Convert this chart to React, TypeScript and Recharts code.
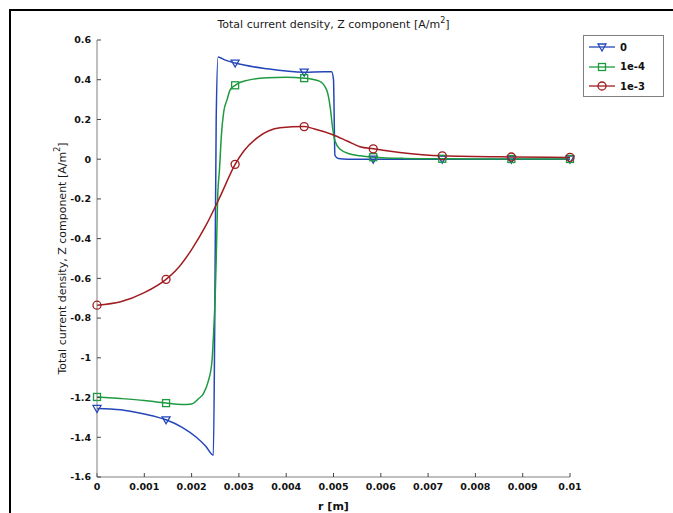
import React from 'react';
import { LineChart, Line, XAxis, YAxis } from 'recharts';

// radial positions where the solver put its markers (shared by all curves)
const markerR = [0, 0.00146, 0.00292, 0.00438, 0.00584, 0.0073, 0.00876, 0.01];

// sigma = 0
const rBlue = [0.0005, 0.001, 0.0018, 0.0021, 0.0023, 0.00246, 0.00249, 0.00252, 0.00256, 0.0027, 0.0036, 0.0048, 0.00496, 0.005, 0.00503, 0.0051, 0.0053];
const vBlue = [-1.262, -1.283, -1.35, -1.40, -1.445, -1.49, -0.8, 0.2, 0.515, 0.50, 0.455, 0.44, 0.44, 0.40, 0.02, 0.003, 0.0];
const mBlue = [-1.255, -1.312, 0.484, 0.438, 0.0, 0.0, 0.0, 0.0];

// sigma = 1e-4
const rGreen = [0.0005, 0.001, 0.0018, 0.002, 0.00215, 0.00225, 0.00235, 0.00243, 0.00247, 0.0025, 0.00252, 0.00255, 0.00259, 0.00263, 0.00268, 0.00275, 0.00281, 0.0032, 0.0036, 0.004, 0.0047, 0.00486, 0.00493, 0.00498, 0.00503, 0.00514, 0.00535, 0.00556, 0.0065];
const vGreen = [-1.205, -1.215, -1.235, -1.232, -1.205, -1.18, -1.12, -1.02, -0.85, -0.68, -0.51, -0.2, -0.05, 0.12, 0.24, 0.30, 0.346, 0.398, 0.41, 0.413, 0.393, 0.346, 0.262, 0.16, 0.093, 0.05, 0.026, 0.017, 0.004];
const mGreen = [-1.197, -1.228, 0.372, 0.408, 0.01, 0.002, 0.001, 0.001];

// sigma = 1e-3
const rRed = [0.0005, 0.001, 0.0017, 0.002, 0.0023, 0.0026, 0.0031, 0.0034, 0.00387, 0.0046, 0.0050, 0.0053, 0.00556, 0.0064];
const vRed = [-0.718, -0.672, -0.552, -0.455, -0.335, -0.19, 0.04, 0.11, 0.158, 0.152, 0.122, 0.09, 0.063, 0.034];
const mRed = [-0.735, -0.605, -0.026, 0.164, 0.052, 0.017, 0.011, 0.009];

const xTicks = [0, 0.001, 0.002, 0.003, 0.004, 0.005, 0.006, 0.007, 0.008, 0.009, 0.01];
const yTicks = [-1.6, -1.4, -1.2, -1, -0.8, -0.6, -0.4, -0.2, 0, 0.2, 0.4, 0.6];

const build = (r: number[], v: number[], mv: number[]) => {
  const pts = r.map((x, i) => ({ r: x, v: v[i], m: false }));
  markerR.forEach((x, i) => pts.push({ r: x, v: mv[i], m: true }));
  return pts.sort((a, b) => a.r - b.r);
};

const series = [
  { name: '0', color: '#2447b8', shape: 'tri', data: build(rBlue, vBlue, mBlue) },
  { name: '1e-4', color: '#1d9a40', shape: 'sq', data: build(rGreen, vGreen, mGreen) },
  { name: '1e-3', color: '#a01c20', shape: 'circ', data: build(rRed, vRed, mRed) },
];

const font = '"DejaVu Sans", Verdana, sans-serif';

const Marker = ({ shape, x, y, color }: any) => {
  if (shape === 'tri')
    return <polygon points={`${x - 4},${y - 3} ${x + 4},${y - 3} ${x},${y + 4}`} fill="none" stroke={color} strokeWidth={1.3} />;
  if (shape === 'sq')
    return <rect x={x - 3.5} y={y - 3.5} width={7} height={7} fill="none" stroke={color} strokeWidth={1.3} />;
  return <circle cx={x} cy={y} r={4} fill="none" stroke={color} strokeWidth={1.3} />;
};

const makeDot = (shape: string, color: string) => (props: any) => {
  const { cx, cy, payload, index } = props;
  if (!payload.m) return <g key={index} />;
  return <g key={index}><Marker shape={shape} x={cx} y={cy} color={color} /></g>;
};

const YLabel = (props: any) => {
  const { viewBox } = props;
  const cx = viewBox.x + 62;
  const cy = viewBox.y + viewBox.height / 2;
  return (
    <text x={cx} y={cy} transform={`rotate(-90 ${cx} ${cy})`} textAnchor="middle" dominantBaseline="central"
      fontSize={11} fontFamily={font} fill="#1a1a1a">
      Total current density, Z component [A/m<tspan baselineShift="super" fontSize={8}>2</tspan>]
    </text>
  );
};

const fmtX = (v: number) => String(parseFloat(v.toFixed(3)));
const fmtY = (v: number) => String(parseFloat(v.toFixed(1)));

const tickStyle = { fill: '#111', fontSize: 9.5, fontWeight: 'bold', fontFamily: font };

export default function App() {
  return (
    <div style={{ position: 'absolute', left: 0, top: 0, width: 673, height: 513, background: '#fff', fontFamily: font }}>
      <div style={{ position: 'absolute', left: 9, top: 9, width: 664, height: 504, borderTop: '2px solid #000', borderLeft: '2px solid #000', boxSizing: 'border-box' }} />
      <div style={{ position: 'absolute', left: 97, top: 18, width: 473, textAlign: 'center', fontSize: 11, color: '#1a1a1a', lineHeight: '14px' }}>
        Total current density, Z component [A/m<sup style={{ fontSize: 8, lineHeight: 0 }}>2</sup>]
      </div>
      <div style={{ position: 'absolute', left: 0, top: 0 }}>
        <LineChart width={673} height={513} margin={{ top: 40, right: 103, bottom: 0, left: 0 }}>
          <XAxis xAxisId="b" dataKey="r" type="number" domain={[0, 0.01]} ticks={xTicks} interval={0}
            height={36} tickSize={-4} tickMargin={10} tickFormatter={fmtX}
            axisLine={{ stroke: '#808080' }} tickLine={{ stroke: '#444' }} tick={tickStyle}
            label={{ value: 'r [m]', position: 'insideBottom', offset: 3, fill: '#111', fontSize: 11, fontWeight: 'bold', fontFamily: font }} />
          <XAxis xAxisId="t" orientation="top" type="number" domain={[0, 0.01]} ticks={xTicks} interval={0}
            height={0} tickSize={-4} tick={false} allowDataOverflow
            axisLine={{ stroke: '#808080' }} tickLine={{ stroke: '#444' }} />
          <YAxis yAxisId="l" type="number" domain={[-1.6, 0.6]} ticks={yTicks} interval={0}
            width={97} tickSize={-4} tickMargin={10} tickFormatter={fmtY}
            axisLine={{ stroke: '#808080' }} tickLine={{ stroke: '#444' }} tick={tickStyle}
            label={<YLabel />} />
          <YAxis yAxisId="r" orientation="right" type="number" domain={[-1.6, 0.6]} ticks={yTicks} interval={0}
            width={0} tickSize={-4} tick={false} allowDataOverflow
            axisLine={{ stroke: '#808080' }} tickLine={{ stroke: '#444' }} />
          {series.map((s) => (
            <Line key={s.name} xAxisId="b" yAxisId="l" data={s.data} dataKey="v" name={s.name}
              type="monotone" stroke={s.color} strokeWidth={1.5}
              dot={makeDot(s.shape, s.color)} activeDot={false} isAnimationActive={false} />
          ))}
        </LineChart>
      </div>
      <div style={{ position: 'absolute', left: 583, top: 35, width: 81, height: 62, border: '1px solid #808080', background: '#fff', boxSizing: 'border-box' }}>
        {series.map((s, i) => (
          <div key={s.name} style={{ position: 'absolute', left: 5, top: 4 + i * 19.5, height: 14, display: 'flex', alignItems: 'center' }}>
            <svg width={26} height={12} style={{ display: 'block' }}>
              <line x1={0} y1={6} x2={26} y2={6} stroke={s.color} strokeWidth={1.3} />
              <Marker shape={s.shape} x={13} y={6} color={s.color} />
            </svg>
            <span style={{ marginLeft: 5, fontSize: 10, fontWeight: 'bold', color: '#111' }}>{s.name}</span>
          </div>
        ))}
      </div>
    </div>
  );
}
